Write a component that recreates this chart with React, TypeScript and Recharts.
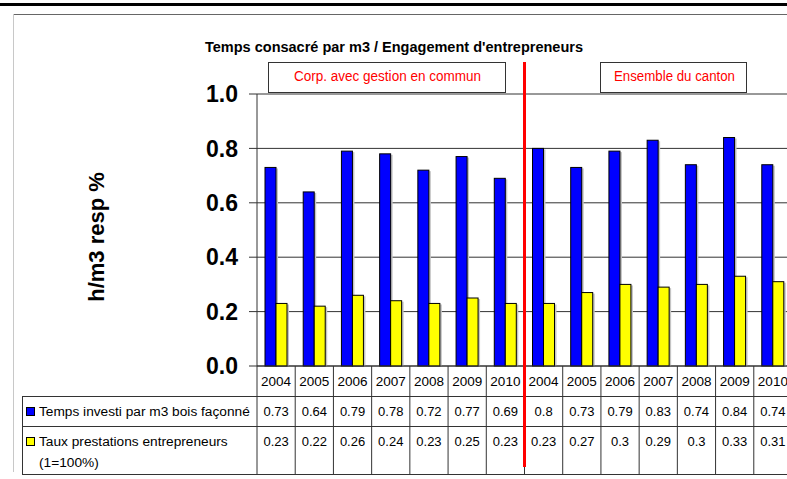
import React from "react"
import { Bar, BarChart, CartesianGrid, XAxis, YAxis } from "recharts"

const years = ["2004", "2005", "2006", "2007", "2008", "2009", "2010", "2004", "2005", "2006", "2007", "2008", "2009", "2010"]
const tempsInvesti = [0.73, 0.64, 0.79, 0.78, 0.72, 0.77, 0.69, 0.8, 0.73, 0.79, 0.83, 0.74, 0.84, 0.74]
const tauxPrestations = [0.23, 0.22, 0.26, 0.24, 0.23, 0.25, 0.23, 0.23, 0.27, 0.3, 0.29, 0.3, 0.33, 0.31]
const yTicks = [0, 0.2, 0.4, 0.6, 0.8, 1.0]

const data = years.map((year, i) => ({ year, temps: tempsInvesti[i], taux: tauxPrestations[i] }))

const FONT = "'Liberation Sans', Arial, sans-serif"
const NARROW = "'Liberation Sans Narrow', 'Arial Narrow', 'Liberation Sans', Arial, sans-serif"

// layout of the chart
const CHART_W = 800
const CHART_H = 479
const PLOT_LEFT = 257
const PLOT_TOP = 94
const AXIS_Y = 366
const RIGHT = 8
const BAND = (CHART_W - RIGHT - PLOT_LEFT) / years.length
const TABLE_BOTTOM = 474
const LINE = "#333"

const ShadowBar = (props: any) => {
  const { x, y, width, height, fill } = props
  if (!height || height <= 0) return null
  return (
    <g>
      <rect x={x + 2} y={y + 1} width={width} height={Math.max(0, height - 1)} fill="#c4c4c4" />
      <rect x={x} y={y} width={width} height={height} fill={fill} stroke="#000" strokeWidth={1} />
    </g>
  )
}

// the year row and data table under the x axis
const TableTick = (props: any) => {
  const { x, payload } = props
  const i = payload.index
  const left = x - BAND / 2
  return (
    <g fontFamily={FONT} fill="#000">
      <line x1={left} y1={AXIS_Y} x2={left} y2={TABLE_BOTTOM} stroke={LINE} strokeWidth={1} />
      {i === years.length - 1 && (
        <line x1={x + BAND / 2} y1={AXIS_Y} x2={x + BAND / 2} y2={TABLE_BOTTOM} stroke={LINE} strokeWidth={1} />
      )}
      <text x={x} y={386} textAnchor="middle" fontSize={13.5}>{payload.value}</text>
      <text x={x} y={416} textAnchor="middle" fontSize={13}>{String(tempsInvesti[i])}</text>
      <text x={x} y={446} textAnchor="middle" fontSize={13}>{String(tauxPrestations[i])}</text>
      {i === 7 && <line x1={left} y1={62} x2={left} y2={467} stroke="#ff0000" strokeWidth={3} />}
    </g>
  )
}

export default function App() {
  return (
    <div style={{ position: "absolute", left: 0, top: 0, width: 787, height: 479, overflow: "hidden", background: "#fff" }}>
      <svg width={787} height={479} style={{ position: "absolute", left: 0, top: 0 }} fontFamily={FONT}>
        <rect x={0} y={3} width={787} height={3} fill="#000" />
        <line x1={13} y1={14.5} x2={787} y2={14.5} stroke="#666" strokeWidth={1} />
        <line x1={13.5} y1={14} x2={13.5} y2={472} stroke="#c8c8c8" strokeWidth={1} />
        <text x={205} y={52} fontSize={14} fontWeight="bold" textLength={378} lengthAdjust="spacingAndGlyphs">
          Temps consacré par m3 / Engagement d'entrepreneurs
        </text>
        <rect x={268.5} y={62.5} width={237} height={30} fill="#fff" stroke={LINE} strokeWidth={1} />
        <text x={294} y={81} fontSize={14} fill="#ff0000" fontFamily={NARROW} textLength={187} lengthAdjust="spacingAndGlyphs">
          Corp. avec gestion en commun
        </text>
        <rect x={600.5} y={62.5} width={146} height={30} fill="#fff" stroke={LINE} strokeWidth={1} />
        <text x={614} y={81} fontSize={14} fill="#ff0000" fontFamily={NARROW} textLength={121} lengthAdjust="spacingAndGlyphs">
          Ensemble du canton
        </text>
        <text x={0} y={0} fontSize={22} fontWeight="bold" textAnchor="middle" transform="translate(104 237) rotate(-90)">
          h/m3 resp %
        </text>
        {/* legend column of the data table */}
        <line x1={22} y1={396.5} x2={787} y2={396.5} stroke={LINE} />
        <line x1={22} y1={426.5} x2={787} y2={426.5} stroke={LINE} />
        <line x1={22} y1={TABLE_BOTTOM + 0.5} x2={787} y2={TABLE_BOTTOM + 0.5} stroke={LINE} />
        <line x1={22.5} y1={396} x2={22.5} y2={TABLE_BOTTOM} stroke={LINE} />
        <rect x={26.5} y={407.5} width={8} height={8} fill="#0000ff" stroke="#000" />
        <text x={39} y={416} fontSize={13.7}>Temps investi par m3 bois façonné</text>
        <rect x={26.5} y={437.5} width={8} height={8} fill="#ffff00" stroke="#000" />
        <text x={39} y={446} fontSize={13.7}>Taux prestations entrepreneurs</text>
        <text x={39} y={467} fontSize={13.7}>(1=100%)</text>
      </svg>
      <div style={{ position: "absolute", left: 0, top: 0 }}>
        <BarChart
          width={CHART_W}
          height={CHART_H}
          data={data}
          margin={{ top: PLOT_TOP, right: RIGHT, left: 0, bottom: 0 }}
          barGap={0}
        >
          <CartesianGrid vertical={false} stroke={LINE} strokeDasharray="" />
          <YAxis
            width={PLOT_LEFT}
            domain={[0, 1]}
            ticks={yTicks}
            tickFormatter={(v: number) => v.toFixed(1)}
            axisLine={{ stroke: LINE }}
            tickLine={{ stroke: LINE }}
            tickSize={8}
            tickMargin={11}
            tick={{ fontSize: 23, fontWeight: "bold", fill: "#000", fontFamily: FONT }}
          />
          <XAxis
            dataKey="year"
            height={CHART_H - AXIS_Y}
            axisLine={{ stroke: LINE }}
            tickLine={false}
            tickSize={0}
            interval={0}
            tick={<TableTick />}
          />
          <Bar dataKey="temps" fill="#0000ff" barSize={11} shape={<ShadowBar />} isAnimationActive={false} />
          <Bar dataKey="taux" fill="#ffff00" barSize={11} shape={<ShadowBar />} isAnimationActive={false} />
        </BarChart>
      </div>
    </div>
  )
}
